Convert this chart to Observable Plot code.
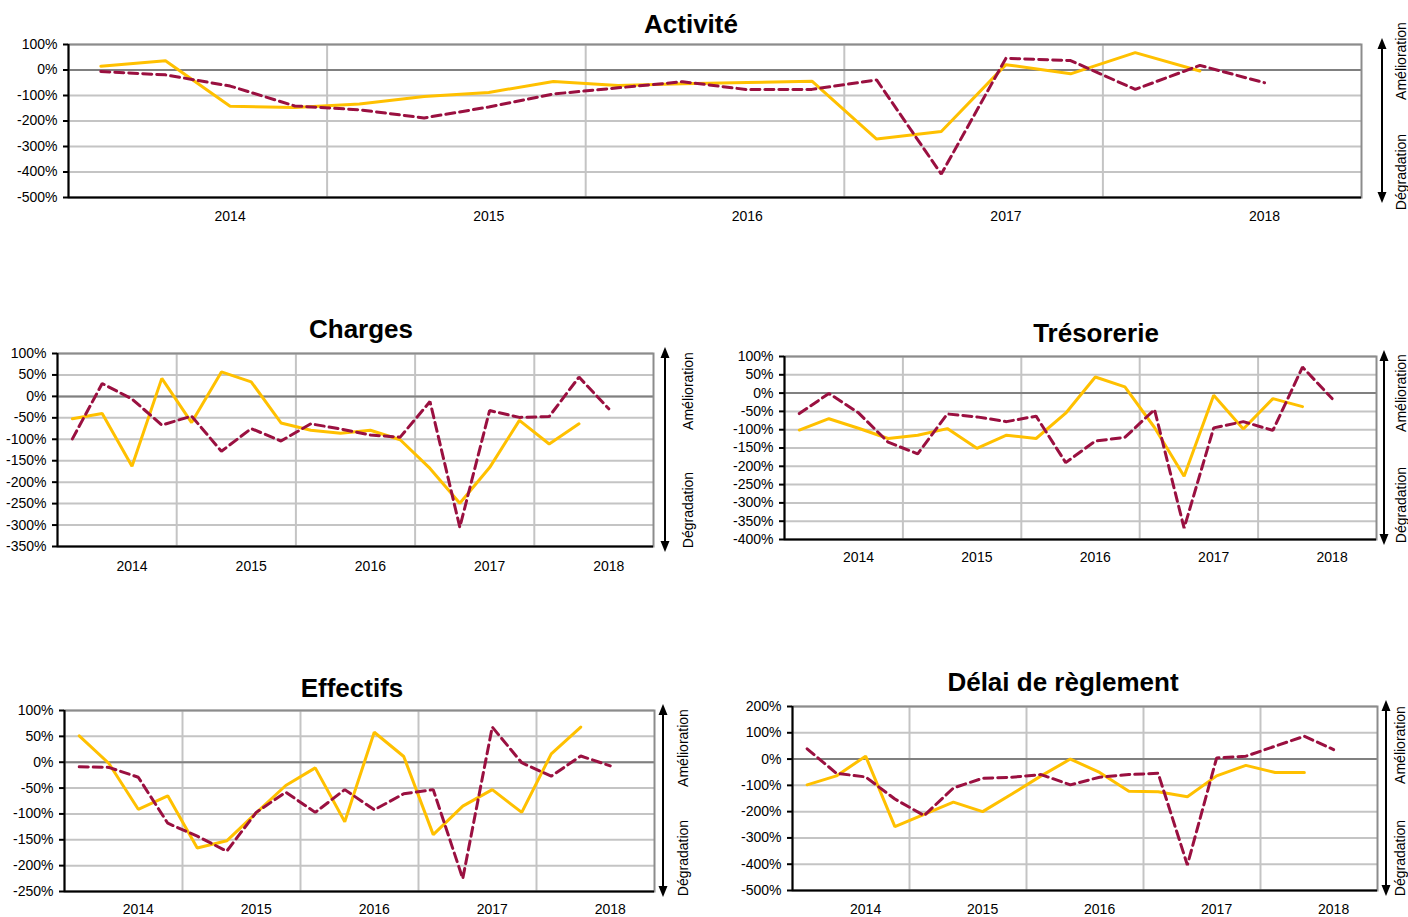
<!DOCTYPE html>
<html>
<head>
<meta charset="utf-8">
<script src="https://cdn.jsdelivr.net/npm/d3@7"></script>
<script src="https://cdn.jsdelivr.net/npm/@observablehq/plot@0.6"></script>
<style>
  html, body { margin: 0; padding: 0; background: #fff; }
  #root { position: relative; width: 1408px; height: 917px; overflow: hidden; font-family: "Liberation Sans", Arial, sans-serif; }
  .panel { position: absolute; }
  .title { position: absolute; transform: translate(-50%, -50%); font-weight: bold; font-size: 26px; white-space: nowrap; color: #000; }
</style>
</head>
<body>
<div id="root"></div>
<script>
// Categories: quarters
const quarters = ["T3 2013","T4 2013","T1 2014","T2 2014","T3 2014","T4 2014","T1 2015","T2 2015",
  "T3 2015","T4 2015","T1 2016","T2 2016","T3 2016","T4 2016","T1 2017","T2 2017",
  "T3 2017","T4 2017","T1 2018","T2 2018"];

// Series values (%), yellow solid and red dashed
const activiteJaune = [15,36,-142,-147,-133,-104,-88,-45,-61,-54,-49,-44,-271,-241,21,-15,68,-4,null,null];
const activiteRouge = [-6,-19,-63,-141,-156,-188,-145,-94,-70,-46,-77,-76,-39,-408,46,37,-76,18,-50,null];

const chargesJaune = [-52,-40,-163,42,-61,57,34,-62,-79,-86,-79,-101,-168,-249,-166,-56,-111,-64,null,null];
const chargesRouge = [-99,30,-6,-67,-46,-128,-75,-104,-64,-76,-90,-95,-12,-305,-33,-49,-47,45,-29,null];

const tresorerieJaune = [-101,-70,-96,-124,-115,-97,-151,-115,-124,-55,44,17,-94,-227,-6,-98,-15,-37,null,null];
const tresorerieRouge = [-56,-1,-54,-134,-166,-57,-65,-78,-63,-190,-131,-121,-45,-369,-95,-78,-102,71,-15,null];

const effectifsJaune = [51,-2,-91,-65,-166,-152,-98,-45,-11,-115,58,11,-140,-85,-53,-97,16,68,null,null];
const effectifsRouge = [-9,-10,-29,-118,-143,-172,-97,-58,-97,-53,-92,-61,-53,-225,68,-1,-27,12,-7,null];

const delaiJaune = [-98,-64,11,-257,-210,-164,-200,-133,-64,0,-51,-122,-124,-143,-64,-24,-51,-51,null,null];
const delaiRouge = [39,-54,-68,-152,-215,-110,-73,-69,-59,-98,-69,-59,-54,-403,4,11,49,87,36,null];

// Y tick labels per panel
const ticksActivite = [100,0,-100,-200,-300,-400,-500];
const ticksCharges = [100,50,0,-50,-100,-150,-200,-250,-300,-350];
const ticksTresorerie = [100,50,0,-50,-100,-150,-200,-250,-300,-350,-400];
const ticksEffectifs = [100,50,0,-50,-100,-150,-200,-250];
const ticksDelai = [200,100,0,-100,-200,-300,-400,-500];

const JAUNE = "#FFC000";
const ROUGE = "#9A1040";

const yearTickIdx = quarters.map((q, i) => q.startsWith("T1") ? i : -1).filter(i => i >= 0);
const boundaries = quarters.map((q, i) => (q.startsWith("T3") && i > 0) ? i - 0.5 : null).filter(v => v !== null);

function toRows(values) {
  return values.map((v, i) => ({i, q: quarters[i], v}));
}

function sideArrows(p) {
  return (index, scales, values, dims) => {
    const right = dims.width - dims.marginRight;
    const top = dims.marginTop, bottom = dims.height - dims.marginBottom;
    const ax = right + p.arrowDx;
    const y1 = top - 6, y2 = bottom + 6;
    const g = d3.create("svg:g");
    g.append("line").attr("x1", ax).attr("x2", ax).attr("y1", y1 + 8).attr("y2", y2 - 8)
      .attr("stroke", "#000").attr("stroke-width", 2);
    g.append("path").attr("d", `M${ax},${y1}l-4.5,11h9z`).attr("fill", "#000");
    g.append("path").attr("d", `M${ax},${y2}l-4.5,-11h9z`).attr("fill", "#000");
    const tx = right + p.textDx;
    g.append("text").attr("transform", `translate(${tx},${top + p.ameDy}) rotate(-90)`)
      .attr("text-anchor", "middle").attr("dy", "0.35em").attr("fill", "#000")
      .attr("font-size", 14).text("Amélioration");
    g.append("text").attr("transform", `translate(${tx},${bottom + p.degDy}) rotate(-90)`)
      .attr("text-anchor", "middle").attr("dy", "0.35em").attr("fill", "#000")
      .attr("font-size", 14).text("Dégradation");
    return g.node();
  };
}

function panel(cfg) {
  const yMin = d3.min(cfg.ticks), yMax = d3.max(cfg.ticks);
  const plot = Plot.plot({
    width: cfg.width, height: cfg.height,
    marginLeft: cfg.ml, marginRight: cfg.mr, marginTop: cfg.mt, marginBottom: cfg.mb,
    style: {fontFamily: "'Liberation Sans', Arial, sans-serif", fontSize: "14px", color: "#000", background: "transparent", overflow: "visible"},
    x: {domain: [-0.5, quarters.length - 0.5], axis: null},
    y: {domain: [yMin, yMax], axis: null},
    marks: [
      Plot.ruleY(cfg.ticks, {stroke: "#c4c4c4", strokeWidth: 2}),
      Plot.ruleX(boundaries, {stroke: "#c4c4c4", strokeWidth: 2}),
      Plot.ruleY([0], {stroke: "#808080", strokeWidth: 2}),
      Plot.frame({stroke: "#8c8c8c", strokeWidth: 2}),
      Plot.ruleX([-0.5], {stroke: "#000", strokeWidth: 2}),
      Plot.ruleY([yMin], {stroke: "#000", strokeWidth: 2}),
      Plot.axisY({ticks: cfg.ticks, tickFormat: d => `${d}%`, tickSize: 5, tickPadding: 6, strokeWidth: 2, fontSize: 14, label: null}),
      Plot.axisX({ticks: yearTickIdx, tickFormat: i => quarters[i].split(" ")[1], tickSize: 0, tickPadding: cfg.xPad, fontSize: 14, label: null}),
      Plot.line(toRows(cfg.jaune), {x: "i", y: "v", stroke: JAUNE, strokeWidth: 3, strokeLinejoin: "miter"}),
      Plot.line(toRows(cfg.rouge), {x: "i", y: "v", stroke: ROUGE, strokeWidth: 3, strokeDasharray: "9,5", strokeLinejoin: "miter"}),
      sideArrows(cfg.side)
    ]
  });
  const div = document.createElement("div");
  div.className = "panel";
  div.style.left = cfg.left + "px";
  div.style.top = cfg.top + "px";
  div.appendChild(plot);
  const root = document.getElementById("root");
  root.appendChild(div);
  const t = document.createElement("div");
  t.className = "title";
  t.textContent = cfg.title;
  t.style.left = cfg.titleX + "px";
  t.style.top = cfg.titleY + "px";
  root.appendChild(t);
}

panel({title: "Activité", titleX: 691, titleY: 24,
  left: 0, top: 34, width: 1408, height: 193, ml: 68, mr: 47, mt: 10, mb: 30, xPad: 14,
  ticks: ticksActivite, jaune: activiteJaune, rouge: activiteRouge,
  side: {arrowDx: 21, textDx: 40, ameDy: 17, degDy: -25}});

panel({title: "Charges", titleX: 361, titleY: 329,
  left: 0, top: 343, width: 700, height: 233, ml: 57, mr: 47, mt: 10, mb: 30, xPad: 15,
  ticks: ticksCharges, jaune: chargesJaune, rouge: chargesRouge,
  side: {arrowDx: 12, textDx: 35, ameDy: 38, degDy: -36}});

panel({title: "Trésorerie", titleX: 1096, titleY: 333,
  left: 720, top: 346, width: 688, height: 223, ml: 64, mr: 32, mt: 10, mb: 30, xPad: 13,
  ticks: ticksTresorerie, jaune: tresorerieJaune, rouge: tresorerieRouge,
  side: {arrowDx: 8, textDx: 25, ameDy: 37, degDy: -34}});

panel({title: "Effectifs", titleX: 352, titleY: 688,
  left: 0, top: 700, width: 700, height: 217, ml: 64, mr: 46, mt: 10, mb: 26, xPad: 13,
  ticks: ticksEffectifs, jaune: effectifsJaune, rouge: effectifsRouge,
  side: {arrowDx: 9, textDx: 29, ameDy: 38, degDy: -33}});

panel({title: "Délai de règlement", titleX: 1063, titleY: 682,
  left: 720, top: 696, width: 688, height: 221, ml: 72, mr: 31, mt: 10, mb: 27, xPad: 14,
  ticks: ticksDelai, jaune: delaiJaune, rouge: delaiRouge,
  side: {arrowDx: 9, textDx: 23, ameDy: 39, degDy: -32}});
</script>
</body>
</html>
